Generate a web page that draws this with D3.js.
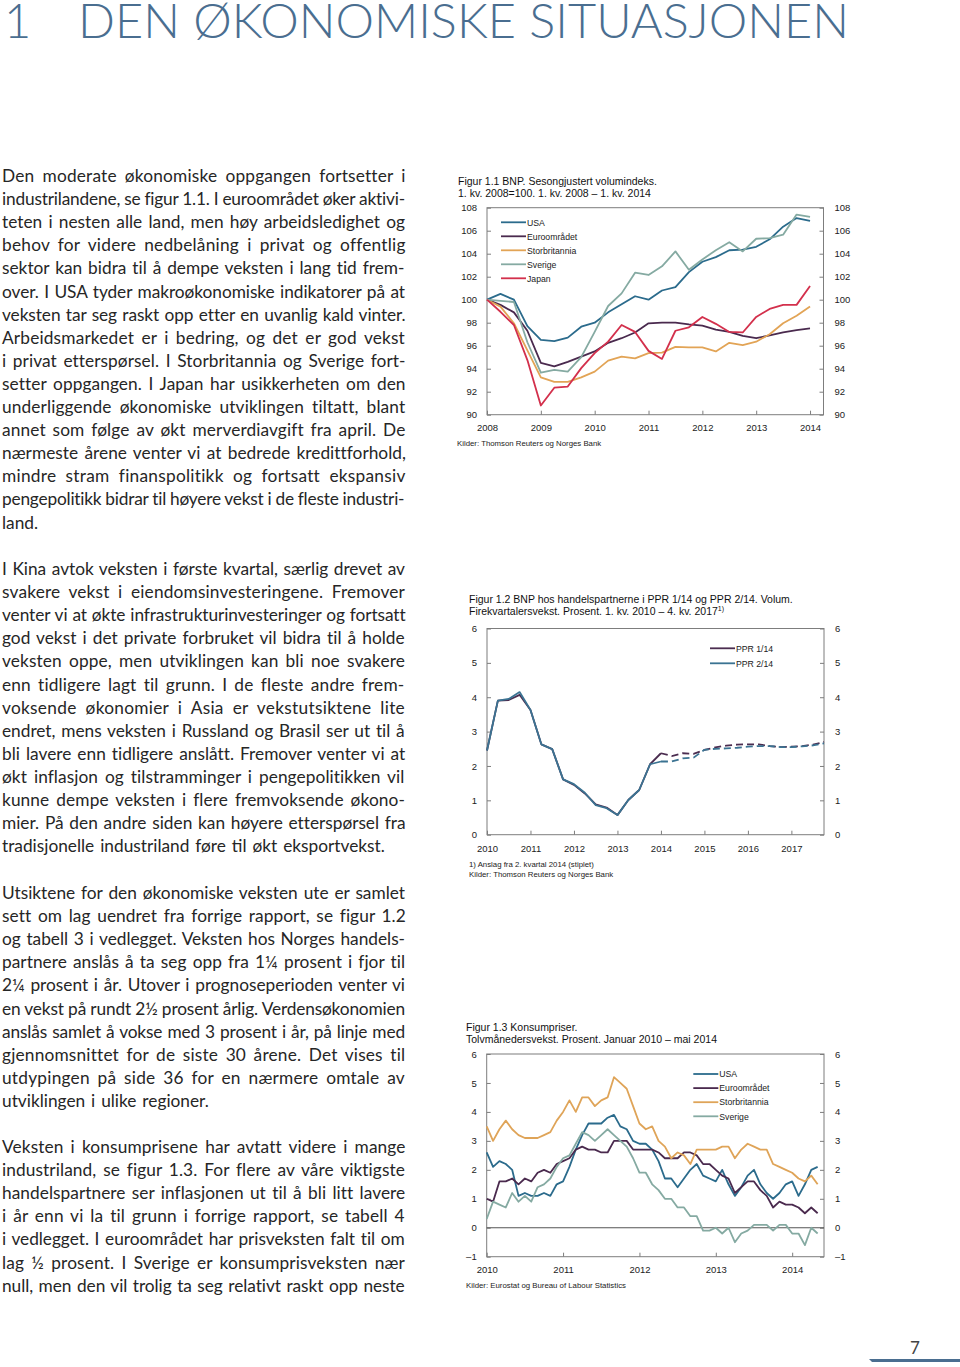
<!DOCTYPE html>
<html><head><meta charset="utf-8">
<script src="https://cdn.jsdelivr.net/npm/d3@7"></script>
<style>body{margin:0;background:#fff}</style>
</head><body><svg id="page" width="960" height="1367"></svg>
<script>
// ---------- DATA ----------
// Figure 1.1 (quarterly, 1Q2008 - 1Q2014)
const f11Years = ["2008","2009","2010","2011","2012","2013","2014"];
const f11YTicks = [90,92,94,96,98,100,102,104,106,108];
const f11Names = ["USA","Euroområdet","Storbritannia","Sverige","Japan"];
const f11USA = [100,100.5,100.0,97.7,96.5,96.4,96.7,97.65,98.0,98.9,99.6,100.3,100.0,100.8,101.1,102.4,103.3,103.7,104.3,104.35,104.6,105.25,106.35,107.1,106.85];
const f11Euro = [100,99.55,98.9,97.3,94.5,94.2,94.6,95.05,95.5,96.25,96.65,97.15,97.95,98.0,98.0,97.85,97.75,97.4,97.2,96.85,96.65,96.9,97.15,97.35,97.5];
const f11UK = [100,99.4,97.95,95.6,93.25,92.85,92.85,93.25,93.75,94.7,95.05,94.9,95.35,95.4,95.9,95.85,95.85,95.5,96.25,96.05,96.35,97.0,97.95,98.6,99.4];
const f11Swe = [100,99.9,99.8,96.3,93.65,93.9,93.75,95.0,97.2,99.45,100.55,102.35,102.15,102.9,104.2,102.6,103.5,104.3,105.0,104.2,105.3,105.35,105.65,107.4,107.2];
const f11Jpn = [100,98.95,97.8,94.75,90.8,92.35,92.45,94.05,95.35,96.35,97.8,97.2,95.55,94.85,97.3,97.6,98.5,97.9,97.2,97.15,98.5,99.2,99.55,99.55,101.2];

// Figure 1.2 (quarterly, 1Q2010 - 4Q2017), forecast from index 16
const f12Years = ["2010","2011","2012","2013","2014","2015","2016","2017"];
const f12YTicks = [0,1,2,3,4,5,6];
const f12Names = ["PPR 1/14","PPR 2/14"];
const f12PPR1 = [2.45,3.9,3.92,4.07,3.63,2.63,2.49,1.61,1.45,1.2,0.88,0.79,0.57,1.01,1.3,2.05,2.37,2.29,2.37,2.35,2.47,2.54,2.59,2.62,2.63,2.63,2.58,2.55,2.56,2.58,2.62,2.7];
const f12PPR2 = [2.45,3.9,3.95,4.15,3.63,2.63,2.49,1.61,1.47,1.22,0.86,0.77,0.57,1.01,1.3,2.05,2.13,2.13,2.22,2.24,2.47,2.5,2.51,2.53,2.56,2.58,2.58,2.55,2.55,2.57,2.6,2.66];
const f12LastActual = 16;

// Figure 1.3 (monthly, Jan 2010 - May 2014)
const f13Years = ["2010","2011","2012","2013","2014"];
const f13YTicks = [-1,0,1,2,3,4,5,6];
const f13Names = ["USA","Euroområdet","Storbritannia","Sverige"];
const f13USA = [2.6,2.1,2.3,2.2,2.0,1.1,1.2,1.1,1.1,1.2,1.1,1.5, 1.6,2.1,2.7,3.2,3.6,3.6,3.6,3.8,3.9,3.5,3.4,3.0, 2.9,2.9,2.7,2.3,1.7,1.7,1.4,1.7,2.0,2.2,1.8,1.7, 1.6,2.0,1.5,1.1,1.4,1.8,2.0,1.5,1.2,1.0,1.2,1.5, 1.6,1.1,1.5,2.0,2.1];
const f13Euro = [1.0,0.9,1.6,1.6,1.7,1.5,1.7,1.6,1.9,2.0,1.9,2.2, 2.3,2.4,2.7,2.8,2.7,2.7,2.6,2.6,3.0,3.0,3.0,2.7, 2.7,2.7,2.7,2.6,2.4,2.4,2.4,2.6,2.6,2.5,2.2,2.2, 2.0,1.8,1.7,1.2,1.4,1.6,1.6,1.3,1.1,0.7,0.9,0.8, 0.8,0.7,0.5,0.7,0.5];
const f13UK = [3.5,3.0,3.4,3.7,3.4,3.2,3.1,3.1,3.1,3.2,3.3,3.7, 4.0,4.4,4.0,4.5,4.5,4.2,4.4,4.5,5.2,5.0,4.8,4.2, 3.6,3.4,3.5,3.0,2.8,2.4,2.6,2.5,2.2,2.7,2.7,2.7, 2.7,2.8,2.8,2.4,2.7,2.9,2.8,2.7,2.7,2.2,2.1,2.0, 1.9,1.7,1.6,1.8,1.5];
const f13Swe = [0.3,0.9,0.8,0.7,1.2,0.9,1.1,0.9,1.4,1.5,1.7,2.1, 2.4,2.5,2.9,3.3,3.2,3.0,3.2,3.4,3.2,3.0,2.8,2.4, 1.9,1.9,1.5,1.3,1.0,1.0,0.7,0.7,0.4,0.4,-0.1,-0.1, 0.0,-0.2,0.0,-0.5,-0.2,-0.1,0.1,0.1,0.1,-0.1,0.1,0.1, -0.2,-0.2,-0.6,0.0,-0.2];

// Body text
const titleNum = "1";
const titleText = "DEN ØKONOMISKE SITUASJONEN";
const para1 = ["Den moderate økonomiske oppgangen fortsetter i","industrilandene, se figur 1.1. I euroområdet øker aktivi-","teten i nesten alle land, men høy arbeidsledighet og","behov for videre nedbelåning i privat og offentlig","sektor kan bidra til å dempe veksten i lang tid frem-","over. I USA tyder makroøkonomiske indikatorer på at","veksten tar seg raskt opp etter en uvanlig kald vinter.","Arbeidsmarkedet er i bedring, og det er god vekst","i privat etterspørsel. I Storbritannia og Sverige fort-","setter oppgangen. I Japan har usikkerheten om den","underliggende økonomiske utviklingen tiltatt, blant","annet som følge av økt merverdiavgift fra april. De","nærmeste årene venter vi at bedrede kredittforhold,","mindre stram finanspolitikk og fortsatt ekspansiv","pengepolitikk bidrar til høyere vekst i de fleste industri-","land."];
const para2 = ["I Kina avtok veksten i første kvartal, særlig drevet av","svakere vekst i eiendomsinvesteringene. Fremover","venter vi at økte infrastrukturinvesteringer og fortsatt","god vekst i det private forbruket vil bidra til å holde","veksten oppe, men utviklingen kan bli noe svakere","enn tidligere lagt til grunn. I de fleste andre frem-","voksende økonomier i Asia er vekstutsiktene lite","endret, mens veksten i Russland og Brasil ser ut til å","bli lavere enn tidligere anslått. Fremover venter vi at","økt inflasjon og tilstramminger i pengepolitikken vil","kunne dempe veksten i flere fremvoksende økono-","mier. På den andre siden kan høyere etterspørsel fra","tradisjonelle industriland føre til økt eksportvekst."];
const para3 = ["Utsiktene for den økonomiske veksten ute er samlet","sett om lag uendret fra forrige rapport, se figur 1.2","og tabell 3 i vedlegget. Veksten hos Norges handels-","partnere anslås å ta seg opp fra 1¼ prosent i fjor til","2¼ prosent i år. Utover i prognoseperioden venter vi","en vekst på rundt 2½ prosent årlig. Verdensøkonomien","anslås samlet å vokse med 3 prosent i år, på linje med","gjennomsnittet for de siste 30 årene. Det vises til","utdypingen på side 36 for en nærmere omtale av","utviklingen i ulike regioner."];
const para4 = ["Veksten i konsumprisene har avtatt videre i mange","industriland, se figur 1.3. For flere av våre viktigste","handelspartnere ser inflasjonen ut til å bli litt lavere","i år enn vi la til grunn i forrige rapport, se tabell 4","i vedlegget. I euroområdet har prisveksten falt til om","lag ½ prosent. I Sverige er konsumprisveksten nær","null, men den vil trolig ta seg relativt raskt opp neste"];

// ---------- DRAWING ----------
const svg = d3.select("#page");
const CF = "'Liberation Sans', Arial, Helvetica, sans-serif";
const BF = "Lato, 'Open Sans', sans-serif";
const BLUE = "#4a6e90";
const AX = "#7d7d7d";

// Title
svg.append("text").attr("x",4).attr("y",38).attr("font-family",BF).attr("font-weight",300)
  .attr("font-size",47).attr("fill",BLUE).text(titleNum);
svg.append("text").attr("x",78).attr("y",38).attr("font-family",BF).attr("font-weight",300)
  .attr("font-size",47).attr("fill",BLUE).attr("textLength",771).attr("lengthAdjust","spacingAndGlyphs").text(titleText);

// Body paragraphs
function paragraph(lines, y0, justifyLast){
  const lh = 23.1, x0 = 2, x1 = 405, base = 1.5;
  lines.forEach((ln,i)=>{
    const t = svg.append("text").attr("x",x0).attr("y",y0+i*lh).attr("font-family",BF)
      .attr("font-size",17.3).attr("fill","#262626").style("word-spacing",base+"px").text(ln);
    const last = i===lines.length-1;
    if(!last || justifyLast){
      const w = t.node().getComputedTextLength();
      const n = (ln.match(/ /g)||[]).length;
      const nc = ln.length;
      if(n>0){
        const extra = (x1-x0-w);
        const ls = extra*0.45/nc;
        const ws = base + (extra - ls*nc)/n;
        t.style("letter-spacing", ls+"px").style("word-spacing", ws+"px");
        const w2 = t.node().getComputedTextLength();
        if(Math.abs(w2-(x1-x0))>3){ t.style("word-spacing",null).style("letter-spacing",null).attr("textLength",x1-x0).attr("lengthAdjust","spacing"); }
      }
    }
  });
}
paragraph(para1,182,false);
paragraph(para2,575,false);
paragraph(para3,899,false);
paragraph(para4,1153,true);

// Page number and bar
svg.append("text").attr("x",910).attr("y",1354).attr("font-family",BF).attr("font-size",17).attr("fill","#444").text("7");
svg.append("path").attr("d","M869,1359 L960,1359 L960,1362 L872,1362 Z").attr("fill",BLUE);

// Generic chart
function chart(o){
  const g = svg.append("g");
  const x = d3.scaleLinear().domain(o.xDomain).range([o.left,o.right]);
  const y = d3.scaleLinear().domain(o.yDomain).range([o.bottom,o.top]);
  const fmt = d => d<0 ? "\u2013"+Math.abs(d) : String(d);
  const yl = g.append("g").attr("transform",`translate(${o.left},0)`)
    .call(d3.axisLeft(y).tickValues(o.yTicks).tickSize(-4).tickPadding(10).tickFormat(fmt));
  const yr = g.append("g").attr("transform",`translate(${o.right},0)`)
    .call(d3.axisRight(y).tickValues(o.yTicks).tickSize(-4).tickPadding(11).tickFormat(fmt));
  const xb = g.append("g").attr("transform",`translate(0,${o.bottom})`)
    .call(d3.axisBottom(x).tickValues(o.xTicks).tickSize(-4).tickPadding(o.xPad).tickFormat((d,i)=>o.xLabels[i]));
  [yl,yr,xb].forEach(a=>{
    a.select(".domain").remove();
    a.selectAll("line").attr("stroke",AX);
    a.selectAll("text").attr("font-family",CF).attr("font-size",9.5).attr("fill","#222");
  });
  g.append("rect").attr("x",o.left).attr("y",o.top).attr("width",o.right-o.left).attr("height",o.bottom-o.top)
    .attr("fill","none").attr("stroke",AX).attr("stroke-width",1);
  if(o.zero){
    g.append("line").attr("x1",o.left).attr("x2",o.right).attr("y1",y(0)).attr("y2",y(0)).attr("stroke","#555").attr("stroke-width",1.2);
  }
  // titles
  o.title.forEach((t,i)=>{
    const tt = g.append("text").attr("x",o.tx).attr("y",o.ty+i*12).attr("font-family",CF).attr("font-size",10.5).attr("fill","#111").text(t);
    if(i===o.title.length-1 && o.sup){
      tt.append("tspan").attr("dy",-4).attr("font-size",7).text(o.sup);
    }
  });
  // sources
  o.notes.forEach((t,i)=>{
    g.append("text").attr("x",o.nx).attr("y",o.ny+i*10).attr("font-family",CF).attr("font-size",7.8).attr("fill","#222").text(t);
  });
  // series
  const line = d3.line().x(d=>x(d[0])).y(d=>y(d[1]));
  o.series.forEach(s=>{
    const pts = s.data.map((v,i)=>[i,v]);
    if(s.split!=null){
      g.append("path").attr("d",line(pts.slice(0,s.split+1))).attr("fill","none").attr("stroke",s.color).attr("stroke-width",1.8).attr("stroke-linejoin","round");
      g.append("path").attr("d",line(pts.slice(s.split))).attr("fill","none").attr("stroke",s.color).attr("stroke-width",1.8).attr("stroke-dasharray","7,4");
    } else {
      g.append("path").attr("d",line(pts)).attr("fill","none").attr("stroke",s.color).attr("stroke-width",1.8).attr("stroke-linejoin","round");
    }
  });
  // legend
  o.series.forEach((s,i)=>{
    const ly = o.ly + i*o.lstep;
    g.append("line").attr("x1",o.lx).attr("x2",o.lx+25).attr("y1",ly).attr("y2",ly).attr("stroke",s.color).attr("stroke-width",1.8);
    g.append("text").attr("x",o.lx+26).attr("y",ly+3.2).attr("font-family",CF).attr("font-size",8.7).attr("fill","#222").text(s.name);
  });
}

// Figure 1.1
chart({
  left:487, right:823.5, top:207.7, bottom:414.7,
  xDomain:[0,25], yDomain:[90,108], yTicks:f11YTicks,
  xTicks:f11Years.map((d,i)=>i*4), xLabels:f11Years, xPad:10,
  title:["Figur 1.1 BNP. Sesongjustert volumindeks.","1. kv. 2008=100. 1. kv. 2008 \u2013 1. kv. 2014"], tx:458, ty:185,
  notes:["Kilder: Thomson Reuters og Norges Bank"], nx:457, ny:446,
  lx:501, ly:222.3, lstep:14,
  series:[
    {name:f11Names[0], data:f11USA, color:"#2b6b8c"},
    {name:f11Names[1], data:f11Euro, color:"#4a2a4e"},
    {name:f11Names[2], data:f11UK, color:"#e2a456"},
    {name:f11Names[3], data:f11Swe, color:"#85aaa2"},
    {name:f11Names[4], data:f11Jpn, color:"#d3304c"}
  ]
});

// Figure 1.2
chart({
  left:487, right:824, top:628.5, bottom:834.7,
  xDomain:[0,31], yDomain:[0,6], yTicks:f12YTicks,
  xTicks:f12Years.map((d,i)=>i*4), xLabels:f12Years, xPad:11,
  title:["Figur 1.2 BNP hos handelspartnerne i PPR 1/14 og PPR 2/14. Volum.","Firekvartalersvekst. Prosent. 1. kv. 2010 \u2013 4. kv. 2017"], sup:"1)", tx:469, ty:603,
  notes:["1) Anslag fra 2. kvartal 2014 (stiplet)","Kilder: Thomson Reuters og Norges Bank"], nx:469, ny:867,
  lx:710, ly:648.3, lstep:15,
  series:[
    {name:f12Names[0], data:f12PPR1, color:"#4b2d50", split:f12LastActual},
    {name:f12Names[1], data:f12PPR2, color:"#3b7392", split:f12LastActual}
  ]
});

// Figure 1.3
chart({
  left:486.7, right:824, top:1054, bottom:1256.7,
  xDomain:[0,53], yDomain:[-1,6], yTicks:f13YTicks, zero:true,
  xTicks:f13Years.map((d,i)=>i*12), xLabels:f13Years, xPad:10,
  title:["Figur 1.3 Konsumpriser.","Tolvmånedersvekst. Prosent. Januar 2010 \u2013 mai 2014"], tx:466, ty:1031,
  notes:["Kilder: Eurostat og Bureau of Labour Statistics"], nx:466, ny:1288,
  lx:693.3, ly:1074, lstep:14.1,
  series:[
    {name:f13Names[0], data:f13USA, color:"#2b6b8c"},
    {name:f13Names[1], data:f13Euro, color:"#4a2a4e"},
    {name:f13Names[2], data:f13UK, color:"#dfa458"},
    {name:f13Names[3], data:f13Swe, color:"#85aaa2"}
  ]
});
</script>
</body></html>
